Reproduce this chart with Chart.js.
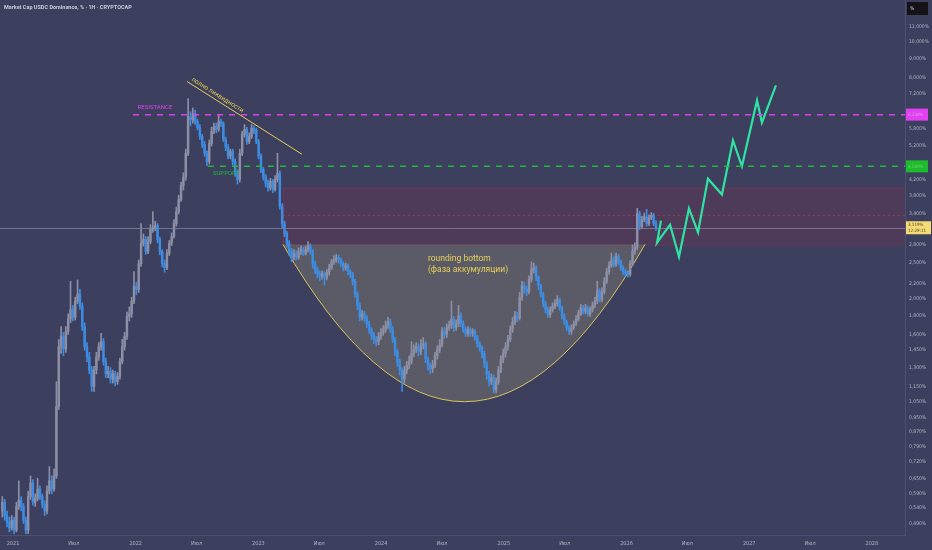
<!DOCTYPE html>
<html>
<head>
<meta charset="utf-8">
<script src="https://cdn.jsdelivr.net/npm/chart.js@4.4.1/dist/chart.umd.min.js"></script>
<style>
  html, body { margin: 0; padding: 0; background: #3d3f5f; }
  #wrap { width: 932px; height: 550px; }
</style>
</head>
<body>
<div id="wrap"><canvas id="usdcChart" width="932" height="550"></canvas></div>
<script>
// weekly candles, first one on 30 Nov 2020 (decimal years on the x axis)
const weekStart = 2020.913;
const weekStep = 7 / 365.25;
const firstOpen = 0.53;

const closes = [
  0.56, 0.515, 0.494, 0.476, 0.50, 0.47, 0.545, 0.567, 0.545, 0.50,
  0.47, 0.58, 0.632, 0.56, 0.574, 0.608, 0.58, 0.553, 0.53, 0.60,
  0.64, 0.608, 0.66, 1.02, 1.48, 1.58, 1.46, 1.63, 1.76, 1.87,
  1.78, 1.97, 2.06, 1.91, 1.68, 1.48, 1.39, 1.28, 1.155, 1.28,
  1.39, 1.48, 1.53, 1.35, 1.25, 1.27, 1.21, 1.25, 1.19, 1.23,
  1.35, 1.48, 1.58, 1.79, 1.82, 1.97, 2.16, 2.12, 2.49, 2.83,
  2.90, 2.69, 2.86, 3.09, 3.12, 3.16, 2.90, 2.69, 2.49, 2.43,
  2.66, 2.83, 2.95, 3.20, 3.45, 3.72, 4.06, 4.28, 4.97, 6.25,
  6.13, 6.37, 6.06, 5.84, 5.52, 5.25, 4.97, 4.72, 5.28, 5.70,
  5.88, 5.77, 6.06, 5.98, 5.42, 5.16, 4.88, 5.03, 4.72, 4.43,
  4.22, 4.97, 5.59, 5.77, 5.35, 5.52, 5.81, 5.74, 5.35, 4.88,
  4.49, 4.28, 4.12, 4.01, 4.17, 3.96, 4.22, 4.38, 3.56, 3.20,
  3.01, 2.83, 2.69, 2.59, 2.66, 2.59, 2.69, 2.72, 2.66, 2.72,
  2.79, 2.69, 2.49, 2.40, 2.34, 2.30, 2.34, 2.29, 2.36, 2.43,
  2.52, 2.55, 2.59, 2.55, 2.49, 2.43, 2.46, 2.37, 2.33, 2.23,
  2.06, 1.92, 1.78, 1.82, 1.77, 1.71, 1.65, 1.59, 1.55, 1.53,
  1.58, 1.62, 1.65, 1.69, 1.73, 1.65, 1.55, 1.44, 1.35, 1.28,
  1.21, 1.28, 1.32, 1.35, 1.42, 1.46, 1.48, 1.44, 1.49, 1.51,
  1.37, 1.32, 1.29, 1.32, 1.40, 1.46, 1.50, 1.63, 1.60, 1.67,
  1.69, 1.76, 1.67, 1.71, 1.80, 1.71, 1.65, 1.61, 1.65, 1.61,
  1.63, 1.57, 1.51, 1.47, 1.42, 1.33, 1.25, 1.19, 1.22, 1.13,
  1.19, 1.28, 1.37, 1.42, 1.48, 1.55, 1.65, 1.73, 1.80, 1.77,
  2.02, 2.17, 2.12, 2.09, 2.26, 2.40, 2.43, 2.29, 2.17, 2.06,
  1.94, 1.87, 1.81, 1.87, 1.91, 1.94, 1.99, 1.89, 1.80, 1.73,
  1.67, 1.63, 1.67, 1.71, 1.76, 1.82, 1.89, 1.85, 1.89, 1.82,
  1.87, 1.92, 1.97, 2.10, 1.99, 2.09, 2.23, 2.37, 2.46, 2.55,
  2.48, 2.61, 2.52, 2.43, 2.37, 2.34, 2.33, 2.49, 2.69, 2.76,
  3.41, 3.14, 3.28, 3.34, 3.20, 3.32, 3.37, 3.20, 3.119
];

const highs = [
  0.58, 0.57, 0.53, 0.51, 0.515, 0.51, 0.56, 0.64, 0.58, 0.555,
  0.51, 0.60, 0.66, 0.645, 0.59, 0.65, 0.62, 0.59, 0.565, 0.62,
  0.70, 0.66, 0.69, 1.19, 1.55, 1.68, 1.62, 1.68, 1.82, 2.23,
  1.92, 2.02, 2.25, 2.12, 1.95, 1.72, 1.52, 1.43, 1.31, 1.31,
  1.43, 1.52, 1.61, 1.56, 1.38, 1.31, 1.30, 1.28, 1.27, 1.26,
  1.38, 1.55, 1.62, 1.84, 1.90, 2.02, 2.37, 2.22, 2.55, 3.20,
  3.00, 2.95, 2.95, 3.18, 3.45, 3.25, 3.20, 2.94, 2.72, 2.55,
  2.72, 2.88, 3.02, 3.28, 3.55, 3.82, 4.15, 4.40, 5.10, 7.00,
  6.45, 6.60, 6.50, 6.15, 5.95, 5.60, 5.35, 5.05, 5.40, 5.85,
  6.00, 6.00, 6.30, 6.15, 6.05, 5.50, 5.25, 5.10, 5.10, 4.80,
  4.48, 5.10, 5.70, 5.95, 5.85, 5.65, 5.95, 5.90, 5.82, 5.42,
  4.95, 4.55, 4.35, 4.20, 4.25, 4.22, 4.32, 4.97, 4.45, 3.62,
  3.25, 3.05, 2.88, 2.74, 2.72, 2.70, 2.75, 2.78, 2.76, 2.78,
  2.86, 2.82, 2.72, 2.53, 2.44, 2.38, 2.38, 2.37, 2.40, 2.48,
  2.56, 2.62, 2.64, 2.63, 2.58, 2.52, 2.50, 2.49, 2.40, 2.36,
  2.26, 2.09, 1.95, 1.86, 1.85, 1.80, 1.74, 1.67, 1.62, 1.58,
  1.62, 1.66, 1.69, 1.74, 1.78, 1.76, 1.68, 1.57, 1.46, 1.37,
  1.30, 1.31, 1.35, 1.40, 1.53, 1.50, 1.52, 1.51, 1.55, 1.57,
  1.53, 1.39, 1.34, 1.36, 1.43, 1.49, 1.55, 1.67, 1.67, 1.71,
  1.74, 1.97, 1.79, 1.75, 1.92, 1.83, 1.74, 1.68, 1.68, 1.67,
  1.66, 1.65, 1.59, 1.53, 1.49, 1.44, 1.35, 1.27, 1.25, 1.24,
  1.22, 1.31, 1.40, 1.46, 1.52, 1.59, 1.69, 1.78, 1.85, 1.84,
  2.08, 2.23, 2.22, 2.16, 2.31, 2.52, 2.50, 2.46, 2.31, 2.19,
  2.08, 1.97, 1.90, 1.90, 1.95, 1.99, 2.04, 2.01, 1.91, 1.82,
  1.75, 1.69, 1.70, 1.74, 1.80, 1.86, 1.93, 1.92, 1.93, 1.91,
  1.90, 1.96, 2.02, 2.23, 2.13, 2.14, 2.28, 2.42, 2.52, 2.66,
  2.60, 2.66, 2.64, 2.55, 2.46, 2.40, 2.38, 2.54, 2.80, 2.84,
  3.52, 3.46, 3.35, 3.42, 3.50, 3.38, 3.43, 3.41, 3.26
];

const lows = [
  0.51, 0.50, 0.48, 0.465, 0.47, 0.46, 0.465, 0.535, 0.53, 0.49,
  0.46, 0.46, 0.57, 0.55, 0.545, 0.565, 0.57, 0.54, 0.515, 0.52,
  0.59, 0.59, 0.60, 0.65, 1.00, 1.42, 1.40, 1.43, 1.60, 1.72,
  1.74, 1.75, 1.94, 1.87, 1.64, 1.45, 1.35, 1.25, 1.12, 1.12,
  1.25, 1.36, 1.45, 1.32, 1.22, 1.22, 1.18, 1.18, 1.16, 1.17,
  1.21, 1.33, 1.45, 1.55, 1.74, 1.78, 1.94, 2.05, 2.08, 2.45,
  2.78, 2.64, 2.65, 2.82, 3.03, 3.06, 2.84, 2.63, 2.44, 2.36,
  2.40, 2.62, 2.79, 2.92, 3.15, 3.40, 3.68, 3.95, 4.20, 4.90,
  5.90, 6.00, 5.95, 5.75, 5.42, 5.15, 4.88, 4.60, 4.65, 5.20,
  5.62, 5.65, 5.70, 5.88, 5.35, 5.05, 4.80, 4.80, 4.62, 4.30,
  4.10, 4.15, 4.90, 5.50, 5.25, 5.28, 5.45, 5.62, 5.28, 4.80,
  4.40, 4.20, 4.02, 3.92, 3.95, 3.88, 3.92, 4.15, 3.50, 3.12,
  2.95, 2.76, 2.62, 2.52, 2.55, 2.55, 2.56, 2.64, 2.62, 2.63,
  2.68, 2.64, 2.42, 2.34, 2.28, 2.24, 2.26, 2.18, 2.25, 2.32,
  2.40, 2.48, 2.51, 2.50, 2.45, 2.38, 2.39, 2.32, 2.28, 2.18,
  2.02, 1.87, 1.74, 1.75, 1.73, 1.67, 1.61, 1.55, 1.51, 1.49,
  1.50, 1.55, 1.59, 1.62, 1.66, 1.62, 1.52, 1.40, 1.31, 1.24,
  1.12, 1.18, 1.25, 1.29, 1.33, 1.39, 1.43, 1.40, 1.41, 1.46,
  1.34, 1.28, 1.25, 1.26, 1.30, 1.37, 1.43, 1.48, 1.56, 1.57,
  1.64, 1.66, 1.63, 1.64, 1.68, 1.68, 1.62, 1.58, 1.58, 1.58,
  1.58, 1.54, 1.48, 1.44, 1.38, 1.30, 1.21, 1.16, 1.17, 1.11,
  1.11, 1.17, 1.26, 1.34, 1.39, 1.45, 1.53, 1.62, 1.70, 1.73,
  1.75, 1.98, 2.07, 2.04, 2.06, 2.22, 2.35, 2.24, 2.12, 2.02,
  1.90, 1.83, 1.78, 1.78, 1.84, 1.88, 1.91, 1.86, 1.76, 1.70,
  1.64, 1.60, 1.60, 1.65, 1.69, 1.74, 1.80, 1.82, 1.82, 1.79,
  1.79, 1.84, 1.89, 1.94, 1.96, 1.96, 2.06, 2.20, 2.33, 2.43,
  2.44, 2.45, 2.48, 2.39, 2.33, 2.30, 2.29, 2.30, 2.46, 2.64,
  2.72, 3.08, 3.10, 3.24, 3.15, 3.16, 3.28, 3.16, 3.06
];

// hand drawn forecast (green zig-zag)
const projX = [2026.281, 2026.249, 2026.355, 2026.428, 2026.509, 2026.583, 2026.664,
  2026.778, 2026.868, 2026.941, 2027.064, 2027.104, 2027.218];
const projY = [3.26, 2.84, 3.18, 2.60, 3.52, 3.03, 4.24, 3.84, 5.39, 4.58, 6.92, 6.02, 7.60];

// axis ticks
const xTickValues = [2021, 2021.496, 2022, 2022.496, 2023, 2023.496, 2024, 2024.496,
  2025, 2025.496, 2026, 2026.496, 2027, 2027.496, 2028];
const xTickLabels = ["2021", "Июл", "2022", "Июл", "2023", "Июл", "2024", "Июл",
  "2025", "Июл", "2026", "Июл", "2027", "Июл", "2028"];
const yTickValues = [0.49, 0.54, 0.59, 0.65, 0.72, 0.79, 0.87, 0.95, 1.05, 1.15, 1.3,
  1.45, 1.6, 1.8, 2.0, 2.2, 2.5, 2.8, 3.4, 3.8, 4.2, 5.2, 5.8, 7.2, 8, 9, 10, 11];

// drawn levels
const resistanceLevel = 6.33;
const supportLevel = 4.58;
const zoneTop = 4.01;
const zoneBottom = 2.81;
const zoneMid = 3.37;
const lastPrice = 3.119;
const lastTime = "12:29:11";

const upColor = "#8c8fa5";
const downColor = "#3d8de2";
const bgColor = "#3d3f5f";
const axisText = "#b4b6c6";
const axisLine = "#4d5072";
const smallFont = "'DejaVu Sans Condensed', 'Liberation Sans', sans-serif";

// Start candles

const candles = closes.map(function (c, i) {
  return {
    x: weekStart + i * weekStep,
    open: i === 0 ? firstOpen : closes[i - 1],
    close: c,
    high: highs[i],
    low: lows[i],
  };
});

function candleColor(ctx) {
  const k = candles[ctx.dataIndex];
  if (!k) return upColor;
  return k.close >= k.open ? upColor : downColor;
}

function pct(v) {
  return v.toFixed(3).replace(".", ",") + "%";
}

// End candles

// Start overlay drawings

const overlays = {
  id: "overlays",
  beforeDraw(chart) {
    const ctx = chart.ctx;
    ctx.save();
    ctx.fillStyle = bgColor;
    ctx.fillRect(0, 0, chart.width, chart.height);
    ctx.restore();
  },
  beforeDatasetsDraw(chart) {
    const ctx = chart.ctx;
    const xs = chart.scales.x;
    const ys = chart.scales.y;
    const area = chart.chartArea;
    ctx.save();
    ctx.beginPath();
    ctx.rect(area.left, area.top, area.right - area.left, area.bottom - area.top);
    ctx.clip();

    // red zone
    const zx = xs.getPixelForValue(2023.2);
    const zt = ys.getPixelForValue(zoneTop);
    const zb = ys.getPixelForValue(zoneBottom);
    ctx.fillStyle = "rgba(150, 45, 72, 0.2)";
    ctx.fillRect(zx, zt, area.right - zx, zb - zt);
    ctx.strokeStyle = "rgba(160, 50, 80, 0.5)";
    ctx.lineWidth = 1;
    ctx.strokeRect(zx + 0.5, zt + 0.5, area.right - zx, zb - zt);
    ctx.setLineDash([2, 3]);
    ctx.strokeStyle = "rgba(190, 60, 90, 0.7)";
    ctx.beginPath();
    const zm = ys.getPixelForValue(zoneMid);
    ctx.moveTo(zx, zm);
    ctx.lineTo(area.right, zm);
    ctx.stroke();
    ctx.setLineDash([]);

    // rounding bottom
    const x0 = xs.getPixelForValue(2023.2);
    const x1 = xs.getPixelForValue(2026.151);
    const xm = xs.getPixelForValue(2024.68);
    const yt = ys.getPixelForValue(zoneBottom);
    const yb = ys.getPixelForValue(1.05);
    const cx = 2 * xm - (x0 + x1) / 2;
    const cy = 2 * yb - yt;
    ctx.beginPath();
    ctx.moveTo(x0, yt);
    ctx.quadraticCurveTo(cx, cy, x1, yt);
    ctx.closePath();
    ctx.fillStyle = "rgba(122, 120, 112, 0.5)";
    ctx.fill();
    ctx.beginPath();
    ctx.moveTo(x0, yt);
    ctx.quadraticCurveTo(cx, cy, x1, yt);
    ctx.strokeStyle = "#d8c25b";
    ctx.lineWidth = 1;
    ctx.stroke();

    // last price line
    const yp = Math.round(ys.getPixelForValue(lastPrice)) + 0.5;
    ctx.strokeStyle = "rgba(160, 160, 180, 0.55)";
    ctx.beginPath();
    ctx.moveTo(area.left, yp);
    ctx.lineTo(area.right, yp);
    ctx.stroke();
    ctx.restore();
  },
  afterDatasetsDraw(chart) {
    const ctx = chart.ctx;
    const xs = chart.scales.x;
    const ys = chart.scales.y;
    const area = chart.chartArea;
    ctx.save();

    // resistance / support dashed levels
    ctx.lineWidth = 1.5;
    ctx.setLineDash([6, 6]);
    ctx.strokeStyle = "#dc42ec";
    let y = ys.getPixelForValue(resistanceLevel);
    ctx.beginPath();
    ctx.moveTo(xs.getPixelForValue(2021.978), y);
    ctx.lineTo(area.right, y);
    ctx.stroke();
    ctx.strokeStyle = "#22b83a";
    y = ys.getPixelForValue(supportLevel);
    ctx.beginPath();
    ctx.moveTo(xs.getPixelForValue(2022.589), y);
    ctx.lineTo(area.right, y);
    ctx.stroke();
    ctx.setLineDash([]);

    // liquidity trend line
    const lx1 = xs.getPixelForValue(2022.418);
    const ly1 = ys.getPixelForValue(7.79);
    const lx2 = xs.getPixelForValue(2023.355);
    const ly2 = ys.getPixelForValue(4.94);
    ctx.strokeStyle = "#e2cf58";
    ctx.lineWidth = 1;
    ctx.beginPath();
    ctx.moveTo(lx1, ly1);
    ctx.lineTo(lx2, ly2);
    ctx.stroke();
    ctx.save();
    ctx.translate(lx1, ly1);
    ctx.rotate(Math.atan2(ly2 - ly1, lx2 - lx1));
    ctx.fillStyle = "#e2cf58";
    ctx.font = "6.5px Roboto";
    ctx.textBaseline = "bottom";
    ctx.fillText("полно ликвидности", 3, -1.5);
    ctx.restore();

    // labels
    ctx.textBaseline = "middle";
    ctx.textAlign = "center";
    ctx.font = "6px Roboto";
    ctx.fillStyle = "#dc42ec";
    ctx.fillText("RESISTANCE", xs.getPixelForValue(2022.157), ys.getPixelForValue(6.61));
    ctx.fillStyle = "#22b83a";
    ctx.fillText("SUPPORT", xs.getPixelForValue(2022.736), ys.getPixelForValue(4.38));

    ctx.textAlign = "left";
    ctx.font = "8.5px Roboto";
    ctx.fillStyle = "#e8cf58";
    ctx.fillText("rounding bottom", xs.getPixelForValue(2024.382), ys.getPixelForValue(2.56));
    ctx.fillText("(фаза аккумуляции)", xs.getPixelForValue(2024.382), ys.getPixelForValue(2.39));
    ctx.restore();
  },
  afterDraw(chart) {
    const ctx = chart.ctx;
    const ys = chart.scales.y;
    const area = chart.chartArea;
    ctx.save();

    // title
    ctx.font = "bold 5.5px Roboto";
    ctx.fillStyle = "#c9cbd8";
    ctx.textBaseline = "middle";
    ctx.textAlign = "left";
    ctx.fillText("Market Cap USDC Dominance, % · 1Н · CRYPTOCAP", 4, 8);

    // "%" button
    ctx.fillStyle = "#131318";
    ctx.fillRect(907, 2, 21, 13);
    ctx.fillStyle = "#d8d8e0";
    ctx.font = "5px " + smallFont;
    ctx.fillText("%", 910, 8.5);

    // level tags on the price axis
    const ax = area.right + 1;
    let y = ys.getPixelForValue(resistanceLevel);
    ctx.fillStyle = "#e040f0";
    ctx.fillRect(ax, y - 6, 22, 12);
    ctx.fillStyle = "rgba(255,255,255,0.4)";
    ctx.font = "4.5px " + smallFont;
    ctx.fillText(pct(resistanceLevel), ax + 2, y);
    y = ys.getPixelForValue(supportLevel);
    ctx.fillStyle = "#1fbb2e";
    ctx.fillRect(ax, y - 6, 22, 12);
    ctx.fillStyle = "rgba(255,255,255,0.3)";
    ctx.fillText(pct(supportLevel), ax + 2, y);

    y = ys.getPixelForValue(lastPrice);
    ctx.fillStyle = "#f6da72";
    ctx.fillRect(ax, y - 6.5, 25, 13);
    ctx.fillStyle = "#3a3a3a";
    ctx.fillText(pct(lastPrice), ax + 2, y - 2.5);
    ctx.fillText(lastTime, ax + 2, y + 3);
    ctx.restore();
  },
};

// End overlay drawings

// Start chart

const ctc = document.getElementById("usdcChart").getContext("2d");

const usdcChart = new Chart(ctc, {
  type: "bar",
  data: {
    datasets: [
      {
        label: "wicks",
        data: candles.map((k) => ({ x: k.x, y: [k.low, k.high] })),
        backgroundColor: candleColor,
        barThickness: 1,
        grouped: false,
        order: 3,
      },
      {
        label: "bodies",
        data: candles.map((k) => ({ x: k.x, y: [k.open, k.close] })),
        backgroundColor: candleColor,
        barThickness: 1.8,
        minBarLength: 1,
        grouped: false,
        order: 2,
      },
      {
        type: "line",
        label: "forecast",
        data: projX.map((x, i) => ({ x: x, y: projY[i] })),
        borderColor: "#2ee3a4",
        borderWidth: 2.2,
        pointRadius: 0,
        tension: 0,
        order: 1,
      },
    ],
  },
  options: {
    responsive: false,
    animation: false,
    devicePixelRatio: 1,
    layout: { padding: 0 },
    plugins: {
      legend: { display: false },
      tooltip: { enabled: false },
    },
    scales: {
      x: {
        type: "linear",
        min: 2020.894,
        max: 2028.27,
        offset: false,
        grid: { display: false, drawTicks: false },
        border: { color: axisLine },
        ticks: {
          color: axisText,
          font: { size: 5.5, family: smallFont },
          padding: 5,
          maxRotation: 0,
          autoSkip: false,
          callback: function (value) {
            const i = xTickValues.indexOf(value);
            return i >= 0 ? xTickLabels[i] : "";
          },
        },
        afterBuildTicks: function (scale) {
          scale.ticks = xTickValues.map((v) => ({ value: v }));
        },
        afterFit: function (scale) {
          scale.height = 15;
          scale.paddingLeft = 0;
          scale.paddingRight = 0;
        },
      },
      y: {
        type: "logarithmic",
        position: "right",
        min: 0.456,
        max: 12.97,
        grid: { display: false, drawTicks: false },
        border: { color: axisLine },
        ticks: {
          color: axisText,
          font: { size: 5, family: smallFont },
          padding: 4,
          autoSkip: false,
          callback: function (value) {
            return pct(value);
          },
        },
        afterBuildTicks: function (scale) {
          scale.ticks = yTickValues.map((v) => ({ value: v }));
        },
        afterFit: function (scale) {
          scale.width = 27;
          scale.paddingTop = 0;
          scale.paddingBottom = 0;
        },
      },
    },
  },
  plugins: [overlays],
});

// End chart
</script>
</body>
</html>
